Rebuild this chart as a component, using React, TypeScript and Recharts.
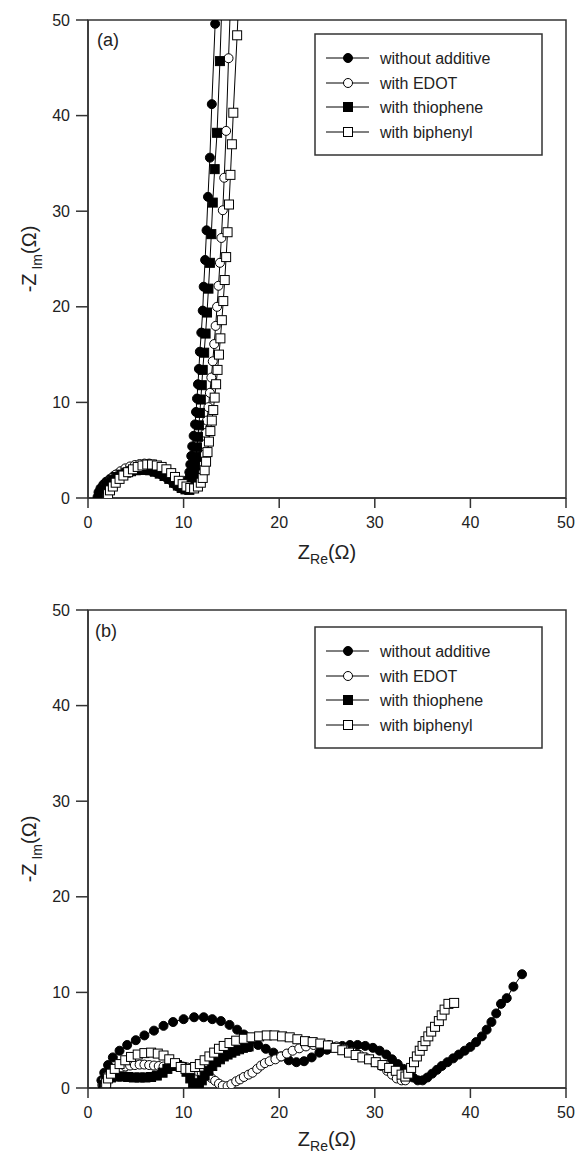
import React from 'react';
import { ScatterChart, Scatter, XAxis, YAxis, ReferenceArea } from 'recharts';

type P = [number, number];

// ---------- Panel (a) ----------
const noAddA: P[] = [
  [1.0, 0.1], [1.1, 0.6], [1.3, 1.0], [1.6, 1.4], [1.9, 1.7], [2.3, 2.0], [2.7, 2.3], [3.1, 2.5],
  [3.6, 2.7], [4.1, 2.85], [4.6, 2.95], [5.1, 3.0], [5.6, 3.0], [6.1, 2.95], [6.6, 2.85], [7.1, 2.7],
  [7.6, 2.5], [8.1, 2.2], [8.6, 1.9], [9.0, 1.5], [9.4, 1.2], [9.8, 1.0], [10.2, 0.9], [10.4, 1.4],
  [10.5, 2.0], [10.6, 2.7], [10.7, 3.5], [10.8, 4.4], [10.9, 5.4], [11.05, 6.5], [11.2, 7.7], [11.3, 9.0],
  [11.4, 10.4], [11.5, 11.9], [11.6, 13.5], [11.7, 15.3], [11.85, 17.3], [12.0, 19.6], [12.1, 22.1],
  [12.25, 24.9], [12.4, 28.0], [12.55, 31.5], [12.75, 35.6], [12.95, 41.2], [13.3, 49.6],
];
const edotA: P[] = [
  [1.5, 0.4], [1.6, 0.9], [1.8, 1.3], [2.1, 1.7], [2.5, 2.1], [2.9, 2.45], [3.4, 2.8], [3.9, 3.1],
  [4.4, 3.3], [4.9, 3.45], [5.4, 3.55], [5.9, 3.6], [6.4, 3.6], [6.9, 3.5], [7.4, 3.35], [7.9, 3.1],
  [8.4, 2.75], [8.8, 2.4], [9.2, 2.0], [9.6, 1.6], [10.0, 1.3], [10.4, 1.1], [10.8, 1.05], [11.1, 1.1],
  [11.3, 1.3], [11.5, 1.8], [11.7, 2.6], [11.85, 3.5], [12.0, 4.5], [12.15, 5.6], [12.3, 6.8], [12.45, 8.1],
  [12.6, 9.5], [12.75, 11.0], [12.9, 12.6], [13.05, 14.3], [13.2, 16.1], [13.35, 18.0], [13.5, 20.0],
  [13.65, 22.2], [13.8, 24.6], [13.95, 27.2], [14.1, 30.1], [14.25, 33.5], [14.45, 38.4], [14.7, 46.0],
  [14.95, 53.0],
];
const thioA: P[] = [
  [1.3, 0.0], [1.4, 0.5], [1.6, 0.9], [1.9, 1.3], [2.2, 1.6], [2.6, 1.9], [3.0, 2.2], [3.5, 2.45],
  [4.0, 2.65], [4.5, 2.8], [5.0, 2.9], [5.5, 2.95], [6.0, 2.95], [6.5, 2.9], [7.0, 2.75], [7.5, 2.55],
  [8.0, 2.3], [8.5, 2.0], [9.0, 1.6], [9.4, 1.3], [9.8, 1.05], [10.2, 0.9], [10.6, 0.85], [10.9, 1.3],
  [11.0, 1.9], [11.1, 2.6], [11.2, 3.4], [11.3, 4.3], [11.4, 5.3], [11.5, 6.4], [11.6, 7.6], [11.7, 8.9],
  [11.8, 10.3], [11.9, 11.8], [12.0, 13.4], [12.15, 15.2], [12.3, 17.2], [12.45, 19.4], [12.6, 21.9],
  [12.75, 24.6], [12.9, 27.6], [13.05, 30.9], [13.25, 34.4], [13.5, 38.2], [13.8, 45.7], [14.05, 53.0],
];
const biphA: P[] = [
  [2.0, 0.0], [2.1, 0.4], [2.3, 0.8], [2.6, 1.2], [2.9, 1.6], [3.3, 2.0], [3.7, 2.35], [4.2, 2.7],
  [4.7, 3.0], [5.2, 3.25], [5.7, 3.4], [6.2, 3.5], [6.7, 3.5], [7.2, 3.4], [7.7, 3.25], [8.2, 3.0],
  [8.7, 2.6], [9.1, 2.2], [9.5, 1.8], [9.9, 1.45], [10.3, 1.2], [10.7, 1.05], [11.1, 1.0], [11.5, 1.2],
  [11.8, 1.6], [12.0, 2.1], [12.2, 2.9], [12.35, 3.8], [12.5, 4.8], [12.65, 5.9], [12.8, 7.0], [12.95, 8.1],
  [13.1, 9.2], [13.25, 10.5], [13.4, 11.9], [13.55, 13.4], [13.7, 15.0], [13.85, 16.7], [14.0, 18.6],
  [14.15, 20.6], [14.3, 22.8], [14.45, 25.2], [14.6, 27.8], [14.75, 30.7], [14.9, 33.8], [15.05, 37.0],
  [15.2, 40.3], [15.6, 48.4], [15.85, 54.0],
];

// ---------- Panel (b) ----------
const noAddB: P[] = [
  [1.4, 0.8], [1.7, 1.6], [2.1, 2.4], [2.6, 3.2], [3.3, 3.9], [4.1, 4.5], [5.0, 5.0], [5.9, 5.5],
  [6.9, 6.0], [7.9, 6.5], [8.9, 6.9], [10.0, 7.2], [11.1, 7.4], [12.1, 7.4], [13.0, 7.2], [13.9, 7.0],
  [14.8, 6.6], [15.6, 6.1], [16.3, 5.6], [17.0, 5.0], [17.8, 4.5], [18.6, 4.1], [19.4, 3.7], [20.2, 3.3],
  [21.0, 2.9], [21.8, 2.7], [22.6, 2.8], [23.4, 3.2], [24.2, 3.7], [25.0, 4.0], [25.8, 4.25], [26.6, 4.4],
  [27.4, 4.5], [28.2, 4.5], [29.0, 4.4], [29.8, 4.2], [30.5, 3.9], [31.2, 3.5], [31.8, 3.0], [32.4, 2.5],
  [33.0, 2.0], [33.5, 1.5], [34.0, 1.1], [34.5, 0.8], [35.0, 0.8], [35.5, 1.1], [36.0, 1.5], [36.5, 1.9],
  [37.0, 2.3], [37.6, 2.7], [38.2, 3.1], [38.8, 3.5], [39.4, 3.9], [40.0, 4.3], [40.6, 4.8], [41.2, 5.4],
  [41.7, 6.1], [42.2, 6.9], [42.7, 7.8], [43.2, 8.8], [43.8, 9.4], [44.5, 10.6], [45.4, 11.9],
];
const edotB: P[] = [
  [1.5, 0.3], [1.7, 0.8], [2.0, 1.2], [2.4, 1.6], [2.9, 1.9], [3.4, 2.1], [3.9, 2.25], [4.4, 2.35],
  [4.9, 2.4], [5.4, 2.45], [5.9, 2.45], [6.4, 2.4], [6.9, 2.35], [7.4, 2.3], [7.9, 2.25], [8.4, 2.25],
  [8.9, 2.3], [9.4, 2.3], [9.9, 2.25], [10.4, 2.15], [10.9, 2.0], [11.4, 1.8], [11.9, 1.6], [12.4, 1.35],
  [12.9, 1.05], [13.3, 0.75], [13.7, 0.45], [14.1, 0.25], [14.6, 0.2], [15.0, 0.4], [15.5, 0.7],
  [15.9, 0.9], [16.3, 1.15], [16.8, 1.4], [17.2, 1.6], [17.7, 2.0], [18.1, 2.35], [18.5, 2.6], [19.0, 2.8],
  [19.6, 3.0], [20.2, 3.3], [20.8, 3.6], [21.4, 3.9], [22.1, 4.15], [22.8, 4.35], [23.6, 4.5], [24.4, 4.6],
  [25.2, 4.5], [26.0, 4.35], [26.8, 4.1], [27.6, 3.8], [28.4, 3.45], [29.2, 3.1], [30.0, 2.7], [30.7, 2.3],
  [31.3, 1.8], [31.8, 1.4], [32.3, 1.0], [32.8, 0.8], [33.2, 0.8],
];
const thioB: P[] = [
  [1.6, 0.3], [1.9, 0.8], [2.4, 1.1], [3.0, 1.2], [3.6, 1.2], [4.2, 1.15], [4.8, 1.1], [5.4, 1.1],
  [6.0, 1.1], [6.6, 1.15], [7.2, 1.3], [7.8, 1.6], [8.3, 2.0], [8.8, 2.3], [9.3, 2.4], [9.8, 2.2],
  [10.3, 1.7], [10.7, 1.0], [11.0, 0.5], [11.3, 0.2], [11.6, 0.3], [11.9, 0.8], [12.2, 1.3], [12.6, 1.8],
  [13.0, 2.3], [13.4, 2.7], [13.8, 3.0], [14.2, 3.3], [14.6, 3.5], [15.0, 3.7], [15.4, 3.9], [15.8, 4.05],
  [16.2, 4.2], [16.6, 4.3], [16.8, 4.35],
];
const biphB: P[] = [
  [1.8, 0.0], [1.9, 0.5], [2.1, 1.0], [2.4, 1.5], [2.8, 2.0], [3.3, 2.5], [3.9, 2.9], [4.5, 3.25],
  [5.2, 3.5], [5.9, 3.65], [6.6, 3.7], [7.3, 3.6], [7.9, 3.4], [8.5, 3.0], [9.1, 2.6], [9.7, 2.2],
  [10.2, 2.0], [10.7, 2.0], [11.2, 2.2], [11.7, 2.5], [12.2, 2.9], [12.7, 3.3], [13.2, 3.7], [13.7, 4.1],
  [14.2, 4.4], [14.8, 4.7], [15.5, 4.95], [16.3, 5.15], [17.1, 5.3], [17.9, 5.4], [18.7, 5.5], [19.5, 5.5],
  [20.3, 5.4], [21.1, 5.3], [21.9, 5.1], [22.7, 4.9], [23.5, 4.8], [24.3, 4.65], [25.1, 4.45], [25.9, 4.2],
  [26.6, 3.95], [27.3, 3.7], [28.0, 3.45], [28.7, 3.2], [29.4, 3.0], [30.1, 2.7], [30.8, 2.4], [31.5, 2.1],
  [32.2, 1.8], [32.8, 1.4], [33.2, 1.2], [33.5, 1.5], [33.8, 2.1], [34.1, 2.7], [34.4, 3.3], [34.7, 3.9],
  [35.0, 4.4], [35.3, 4.9], [35.6, 5.4], [35.9, 5.9], [36.3, 6.4], [36.7, 7.0], [37.0, 7.6], [37.3, 8.2],
  [37.7, 8.8], [38.3, 8.9],
];

const axisTicks = [0, 10, 20, 30, 40, 50];
const seriesNames = ['without additive', 'with EDOT', 'with thiophene', 'with biphenyl'];
const markerKinds = ['filledCircle', 'openCircle', 'filledSquare', 'openSquare'];

const FONT = 'Arial, "Liberation Sans", sans-serif';
const AXIS = '#333';
const R = 4.5;

const toObj = (arr: P[]) => arr.map(([x, y]) => ({ x, y }));

function drawMarker(kind: string, cx: number, cy: number, key?: string) {
  const filled = kind === 'filledCircle' || kind === 'filledSquare';
  const fill = filled ? '#000' : '#fff';
  if (kind.endsWith('Circle')) {
    return <circle key={key} cx={cx} cy={cy} r={R} fill={fill} stroke="#000" strokeWidth={1} />;
  }
  return <rect key={key} x={cx - R} y={cy - R} width={2 * R} height={2 * R} fill={fill} stroke="#000" strokeWidth={1} />;
}

const makeShape = (kind: string) => (props: any) => {
  const { cx, cy } = props;
  if (cx == null || cy == null || isNaN(cx) || isNaN(cy)) return <g />;
  return drawMarker(kind, cx, cy);
};

function Panel({ data, height, xAxisHeight }: { data: P[][]; height: number; xAxisHeight: number }) {
  return (
    <ScatterChart width={579} height={height} margin={{ top: 20, right: 13, bottom: 0, left: 0 }}>
      <XAxis
        type="number"
        dataKey="x"
        domain={[0, 50]}
        ticks={axisTicks}
        allowDataOverflow
        height={xAxisHeight}
        tickSize={10}
        tickMargin={9}
        axisLine={{ stroke: AXIS, strokeWidth: 1.5 }}
        tickLine={{ stroke: AXIS, strokeWidth: 1.5 }}
        tick={{ fill: '#222', fontSize: 16, fontFamily: FONT }}
      />
      <YAxis
        type="number"
        dataKey="y"
        domain={[0, 50]}
        ticks={axisTicks}
        allowDataOverflow
        width={88}
        tickSize={12}
        tickMargin={6}
        axisLine={{ stroke: AXIS, strokeWidth: 1.5 }}
        tickLine={{ stroke: AXIS, strokeWidth: 1.5 }}
        tick={{ fill: '#222', fontSize: 16, fontFamily: FONT }}
      />
      <ReferenceArea x1={0} x2={50} y1={0} y2={50} fill="none" stroke={AXIS} strokeWidth={1.5} />
      {data.map((d, i) => (
        <Scatter
          key={seriesNames[i]}
          name={seriesNames[i]}
          data={toObj(d)}
          line={{ stroke: '#000', strokeWidth: 1 }}
          lineType="joint"
          shape={makeShape(markerKinds[i])}
          isAnimationActive={false}
        />
      ))}
    </ScatterChart>
  );
}

function Legend({ top }: { top: number }) {
  const left = 315;
  const rows = [24, 49, 73, 98];
  return (
    <g>
      <rect x={left} y={top} width={227} height={121} fill="#fff" stroke={AXIS} strokeWidth={1.5} />
      {seriesNames.map((name, i) => {
        const y = top + rows[i];
        return (
          <g key={name}>
            <line x1={left + 11} x2={left + 54} y1={y} y2={y} stroke="#000" strokeWidth={1} />
            {drawMarker(markerKinds[i], left + 33, y)}
            <text x={left + 65} y={y} dominantBaseline="central" fontSize={16} fontFamily={FONT} fill="#222">
              {name}
            </text>
          </g>
        );
      })}
    </g>
  );
}

function XLabel({ y }: { y: number }) {
  return (
    <text x={327} y={y} textAnchor="middle" fontSize={20} fontFamily={FONT} fill="#222">
      Z<tspan fontSize={14} dy={5}>Re</tspan>
      <tspan dy={-5}>(Ω)</tspan>
    </text>
  );
}

function YLabel({ cy }: { cy: number }) {
  return (
    <text
      x={0}
      y={0}
      transform={`translate(36, ${cy}) rotate(-90)`}
      textAnchor="middle"
      fontSize={20}
      fontFamily={FONT}
      fill="#222"
    >
      -Z<tspan fontSize={14} dy={6}> Im</tspan>
      <tspan dy={-6}>(Ω)</tspan>
    </text>
  );
}

export default function App() {
  return (
    <div style={{ position: 'absolute', left: 0, top: 0, width: 579, height: 1157, overflow: 'hidden', background: '#fff' }}>
      <div style={{ position: 'absolute', left: 0, top: 0 }}>
        <Panel data={[noAddA, edotA, thioA, biphA]} height={580} xAxisHeight={82} />
      </div>
      <div style={{ position: 'absolute', left: 0, top: 590 }}>
        <Panel data={[noAddB, edotB, thioB, biphB]} height={567} xAxisHeight={69} />
      </div>
      <svg width={579} height={1157} style={{ position: 'absolute', left: 0, top: 0, pointerEvents: 'none' }}>
        <text x={97} y={46} fontSize={18} fontFamily={FONT} fill="#222">(a)</text>
        <text x={95} y={637} fontSize={18} fontFamily={FONT} fill="#222">(b)</text>
        <Legend top={34} />
        <Legend top={627} />
        <XLabel y={559} />
        <XLabel y={1146} />
        <YLabel cy={259} />
        <YLabel cy={849} />
      </svg>
    </div>
  );
}
